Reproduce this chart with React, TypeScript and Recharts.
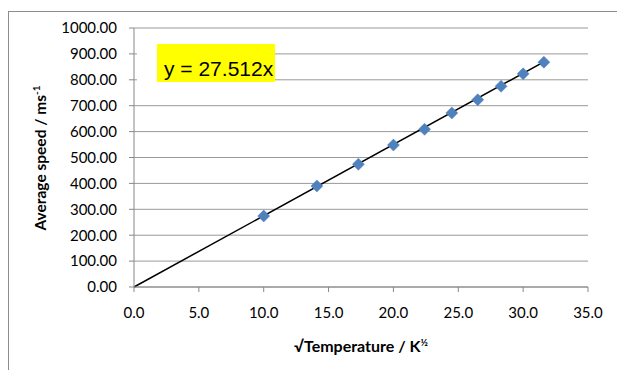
import React from "react";
import { ScatterChart, Scatter, XAxis, YAxis, CartesianGrid, ReferenceLine } from "recharts";

// square root of temperature (K^1/2) vs measured average speed (m/s)
const sqrtTemp = [10.0, 14.1, 17.3, 20.0, 22.4, 24.5, 26.5, 28.3, 30.0, 31.6];
const avgSpeed = [274, 390, 474, 548, 609, 672, 723, 775, 823, 868];
const xTicks = [0, 5, 10, 15, 20, 25, 30, 35];
const yTicks = [0, 100, 200, 300, 400, 500, 600, 700, 800, 900, 1000];
const slope = 27.512;

const points = sqrtTemp.map((x, i) => ({ x, y: avgSpeed[i] }));
const xMax = Math.max(...sqrtTemp);

const FONT = "Lato, 'Noto Sans', sans-serif";

const Diamond = (props: any) => {
  const { cx, cy } = props;
  const r = 6;
  return (
    <polygon
      points={`${cx},${cy - r} ${cx + r},${cy} ${cx},${cy + r} ${cx - r},${cy}`}
      fill="#4f81bd"
      stroke="#4f81bd"
      strokeWidth={0.5}
    />
  );
};

export default function App() {
  return (
    <div style={{ position: "absolute", left: 0, top: 0, width: 617, height: 370, overflow: "hidden", background: "#fff" }}>
      <ScatterChart width={617} height={370} margin={{ top: 28, right: 29, bottom: 53, left: 0 }}>
        <CartesianGrid vertical={false} stroke="#999" strokeWidth={1} />
        <XAxis
          type="number"
          dataKey="x"
          domain={[0, 35]}
          ticks={xTicks}
          height={30}
          tickFormatter={(v: number) => v.toFixed(1)}
          stroke="#888"
          tickSize={5}
          tickMargin={15}
          tick={{ fill: "#000", fontSize: 15, fontFamily: FONT }}
          allowDataOverflow
        />
        <YAxis
          type="number"
          dataKey="y"
          domain={[0, 1000]}
          ticks={yTicks}
          width={134}
          tickFormatter={(v: number) => v.toFixed(2)}
          stroke="#888"
          tickSize={5}
          tickMargin={12}
          tick={{ fill: "#000", fontSize: 15, fontFamily: FONT }}
          allowDataOverflow
        />
        <Scatter data={points} shape={<Diamond />} isAnimationActive={false} />
        <ReferenceLine
          segment={[{ x: 0, y: 0 }, { x: xMax, y: slope * xMax }]}
          stroke="#000"
          strokeWidth={1.5}
        />
      </ScatterChart>
      <svg
        width={617}
        height={370}
        style={{ position: "absolute", left: 0, top: 0, pointerEvents: "none" }}
      >
        <rect x={8.5} y={11.5} width={700} height={400} fill="none" stroke="#8c8c8c" />
        <rect x={137} y={36} width={138} height={60} fill="#fff" />
        <rect x={157} y={44} width={118} height={38} fill="#ffff00" />
        <text x={164} y={76} fontSize={21} fontFamily="'Liberation Sans', Arial, sans-serif" fill="#000">
          {`y = ${slope}x`}
        </text>
        <text
          transform="translate(46,158) rotate(-90)"
          textAnchor="middle"
          fontSize={15.5}
          fontWeight="bold"
          fontFamily={FONT}
          fill="#000"
        >
          Average speed / ms
          <tspan fontSize={10} dy={-6}>-1</tspan>
        </text>
        <text x={361} y={352} textAnchor="middle" fontSize={16} fontWeight="bold" fontFamily={FONT} fill="#000">
          √Temperature / K
          <tspan fontSize={10} dy={-6}>½</tspan>
        </text>
      </svg>
    </div>
  );
}
